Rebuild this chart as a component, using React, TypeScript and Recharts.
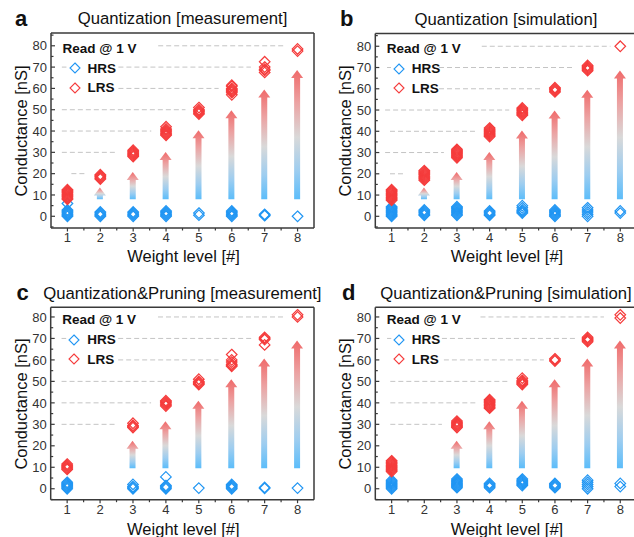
import React from "react";
import { Bar, ComposedChart, ReferenceLine, Scatter, XAxis, YAxis } from "recharts";

const FONT = '"Liberation Sans", Arial, Helvetica, sans-serif';
const HRS_COLOR = "#2196f3";
const LRS_COLOR = "#f53c3c";
const AXIS_COLOR = "#3a3a3a";

const levels = [1, 2, 3, 4, 5, 6, 7, 8];
const xTicks = [1, 1.5, 2, 2.5, 3, 3.5, 4, 4.5, 5, 5.5, 6, 6.5, 7, 7.5, 8];
const yTicks = [-5, 0, 5, 10, 15, 20, 25, 30, 35, 40, 45, 50, 55, 60, 65, 70, 75, 80, 85];

// conductance readings [nS], one list per weight level 1..8
const hrsA = [
  [0, 0.5, 1, 1.5, 2, 2.5, 3, 6],
  [0, 0.5, 1, 1.5, 2],
  [0, 0.5, 1, 1.5, 2],
  [0, 0.5, 1, 1.5, 2, 2.5],
  [0.5, 1.5],
  [0, 0.5, 1, 1.5, 2, 2.5],
  [0.3, 0.6, 0.9],
  [0],
];
const lrsA = [
  [8, 8.5, 9, 9.5, 10, 10.5, 11, 11.5, 12, 12.5],
  [17.5, 18, 18.5, 19, 19.5],
  [28, 28.5, 29, 29.5, 30, 30.5, 31],
  [38, 38.5, 39, 39.5, 40, 40.5, 41, 42],
  [48, 48.5, 49, 49.5, 50, 51],
  [57, 58, 58.5, 59, 59.5, 60, 61, 61.5],
  [67.5, 68.5, 69, 70, 72.5],
  [77.5, 78.5],
];
const hrsB = [
  [0, 0.5, 1, 1.5, 2, 2.5, 3, 3.5, 4, 4.5],
  [0.5, 1, 1.5, 2, 2.5, 3],
  [0.5, 1, 1.5, 2, 2.5, 3, 3.5, 4, 4.5],
  [0.5, 1, 1.5, 2, 2.5],
  [1.5, 2, 2.5, 3, 4, 5],
  [0, 0.5, 1, 1.5, 2, 2.5, 3],
  [0, 1, 2, 3, 4],
  [1.5, 2.5],
];
const lrsB = [
  [7.5, 8, 8.5, 9, 9.5, 10, 10.5, 11, 11.5, 12, 12.5],
  [17, 17.5, 18, 18.5, 19, 19.5, 20, 20.5, 21, 21.5],
  [27.5, 28, 28.5, 29, 29.5, 30, 30.5, 31, 31.5],
  [37.5, 38, 38.5, 39, 39.5, 40, 40.5, 41, 41.5],
  [47.5, 48, 48.5, 49, 49.5, 50, 50.5, 51],
  [58.5, 59, 59.5, 60, 60.5],
  [68.5, 69, 69.5, 70, 70.5, 71],
  [80],
];
const hrsC = [
  [0, 0.5, 1, 1.5, 2, 2.5, 3],
  [],
  [0, 0.5, 1, 2],
  [0, 0.5, 1, 1.5, 5.5],
  [0.3],
  [0, 0.5, 1, 1.5, 2],
  [0.2, 0.6],
  [0.3],
];
const lrsC = [
  [9, 9.5, 10, 10.5, 11, 11.5],
  [],
  [28.5, 29, 29.5, 30.5],
  [38.5, 39, 39.5, 40, 40.5, 41],
  [48.5, 49, 49.5, 50, 51],
  [57, 57.5, 58, 59, 60, 62.5],
  [67, 69.5, 70, 70.5],
  [80, 81],
];
const hrsD = [
  [0, 0.5, 1, 1.5, 2, 2.5, 3, 3.5, 4],
  [],
  [0.5, 1, 1.5, 2, 2.5, 3, 3.5, 4, 4.5],
  [0.5, 1, 1.5, 2, 2.5],
  [1.5, 2, 2.5, 3, 3.5, 4, 4.5],
  [0.5, 1, 1.5, 2, 2.5],
  [0, 1, 2, 3, 4],
  [1, 2.5],
];
const lrsD = [
  [8, 8.5, 9, 9.5, 10, 10.5, 11, 11.5, 12, 12.5, 13],
  [],
  [28.5, 29, 29.5, 30, 30.5, 31, 31.5],
  [37.5, 38, 38.5, 39, 39.5, 40, 40.5, 41, 41.5],
  [48.5, 49, 49.5, 50, 50.5, 51.5],
  [59.5, 60, 60.5],
  [68.5, 69, 69.5, 70, 70.5],
  [79.5, 81],
];

// arrow tips per level (null = no arrow), arrows start at the base value
const arrowTopsQ = [null, 13.5, 20.8, 30.2, 40.4, 49.8, 59.5, 68.6];
const arrowBaseQ = 8;
const arrowTopsP = [null, null, 22.4, 31.4, 41, 51, 60.6, 69];
const arrowBaseP = 9.6;

type Guide = { y: number; from: number; to: number };
const guidesA: Guide[] = [
  { y: 20, from: 1.12, to: 1.58 },
  { y: 30, from: 0.83, to: 2.52 },
  { y: 40, from: 0.83, to: 3.55 },
  { y: 50, from: 0.83, to: 4.59 },
  { y: 60, from: 2.55, to: 5.6 },
  { y: 70, from: 0.83, to: 0.97 },
  { y: 70, from: 2.55, to: 6.58 },
  { y: 80, from: 3.76, to: 7.65 },
];
const guidesB: Guide[] = [
  { y: 20, from: 0.95, to: 1.38 },
  { y: 30, from: 0.8, to: 2.6 },
  { y: 40, from: 0.95, to: 3.56 },
  { y: 50, from: 0.8, to: 4.6 },
  { y: 60, from: 2.45, to: 5.6 },
  { y: 70, from: 0.86, to: 0.98 },
  { y: 70, from: 2.45, to: 6.6 },
  { y: 80, from: 3.76, to: 7.7 },
];
const guidesC: Guide[] = [
  { y: 30, from: 0.83, to: 2.5 },
  { y: 40, from: 0.83, to: 3.55 },
  { y: 50, from: 0.83, to: 4.6 },
  { y: 60, from: 2.55, to: 5.6 },
  { y: 70, from: 0.83, to: 0.97 },
  { y: 70, from: 2.55, to: 6.6 },
  { y: 80, from: 3.76, to: 7.65 },
];
const guidesD: Guide[] = [
  { y: 30, from: 0.96, to: 2.54 },
  { y: 40, from: 0.96, to: 3.57 },
  { y: 50, from: 0.96, to: 4.6 },
  { y: 60, from: 2.6, to: 5.66 },
  { y: 70, from: 0.86, to: 0.99 },
  { y: 70, from: 2.54, to: 6.67 },
  { y: 80, from: 3.72, to: 7.5 },
];

const toPoints = (sets: number[][]) =>
  sets.flatMap((vals, i) => vals.map((y) => ({ x: levels[i], y })));

const diamond = (color: string) => (p: any) => {
  const { cx, cy } = p;
  if (cx == null || cy == null) return null;
  const r = 5.3;
  return (
    <path
      d={`M${cx},${cy - r}L${cx + r},${cy}L${cx},${cy + r}L${cx - r},${cy}Z`}
      fill="none"
      stroke={color}
      strokeWidth={1.2}
    />
  );
};

const arrowShape = (gradId: string) => (p: any) => {
  const { x, y, width, height } = p;
  if (!height || height <= 0) return null;
  const cx = x + width / 2;
  const headH = 8;
  const half = 3;
  const d = `M${cx},${y}L${x + width},${y + headH}L${cx + half},${y + headH}L${cx + half},${y + height}L${cx - half},${y + height}L${cx - half},${y + headH}L${x},${y + headH}Z`;
  return (
    <g>
      <defs>
        <linearGradient id={gradId} x1="0" y1="0" x2="0" y2="1">
          <stop offset="0%" stopColor="#f06a6a" />
          <stop offset="25%" stopColor="#eca2a2" />
          <stop offset="52%" stopColor="#d9d9d9" />
          <stop offset="78%" stopColor="#9dcdf0" />
          <stop offset="100%" stopColor="#5cbdfa" />
        </linearGradient>
      </defs>
      <path d={d} fill={`url(#${gradId})`} />
    </g>
  );
};

const tickFont = { fontSize: 13, fill: "#333", fontFamily: FONT };

// bottom axis: outward tick, label only on whole levels
const XTick = (p: any) => {
  const { x, y, payload } = p;
  const v = payload.value;
  const major = Number.isInteger(v);
  return (
    <g>
      <line x1={x} y1={y} x2={x} y2={y + (major ? 3.5 : 2.5)} stroke={AXIS_COLOR} strokeWidth={1.2} />
      {major && (
        <text x={x} y={y + 5} dy="0.72em" textAnchor="middle" {...tickFont}>
          {v}
        </text>
      )}
    </g>
  );
};

// left axis: inward tick, label every 10
const YTick = (p: any) => {
  const { x, y, payload } = p;
  const v = payload.value;
  const major = v % 10 === 0;
  return (
    <g>
      <line x1={x} y1={y} x2={x + (major ? 4 : 2.5)} y2={y} stroke={AXIS_COLOR} strokeWidth={1.2} />
      {major && (
        <text x={x - 4} y={y} dy="0.36em" textAnchor="end" {...tickFont}>
          {v}
        </text>
      )}
    </g>
  );
};

type Box = { left: number; top: number; right: number; bottom: number };
type Frame = { left: number; top: number; width: number; height: number };

function Txt({
  x,
  base,
  size,
  bold,
  center,
  children,
}: {
  x: number;
  base: number;
  size: number;
  bold?: boolean;
  center?: boolean;
  children: React.ReactNode;
}) {
  return (
    <div
      style={{
        position: "absolute",
        left: x,
        top: base - 0.8465 * size,
        fontSize: size,
        lineHeight: 1,
        fontWeight: bold ? "bold" : "normal",
        fontFamily: FONT,
        whiteSpace: "nowrap",
        color: "#111",
        transform: center ? "translateX(-50%)" : undefined,
      }}
    >
      {children}
    </div>
  );
}

function Panel({
  id,
  letter,
  title,
  hrs,
  lrs,
  arrowTops,
  arrowBase,
  guides,
  yDomain,
  box,
  frame,
  letterX,
  yLabelX,
  xLabelGap,
}: {
  id: string;
  letter: string;
  title: string;
  hrs: number[][];
  lrs: number[][];
  arrowTops: (number | null)[];
  arrowBase: number;
  guides: Guide[];
  yDomain: [number, number];
  box: Box;
  frame: Frame;
  letterX: number;
  yLabelX: number;
  xLabelGap: number;
}) {
  // axes take 1px each (a 0px axis is not drawn)
  const margin = {
    top: box.top - frame.top - 1,
    left: box.left - frame.left - 1,
    right: frame.left + frame.width - box.right - 1,
    bottom: frame.top + frame.height - box.bottom - 1,
  };
  const arrowRows = levels
    .map((x, i) => ({ x, range: arrowTops[i] == null ? null : [arrowBase, arrowTops[i]] }))
    .filter((r) => r.range != null);
  const yTicksIn = yTicks.filter((v) => v > yDomain[0] && v < yDomain[1]);
  const plotH = box.bottom - box.top;
  const plotCx = (box.left + box.right) / 2;
  const yPx = (v: number) => box.top + ((yDomain[1] - v) / (yDomain[1] - yDomain[0])) * plotH;
  const legendMarker = (color: string, v: number) => {
    const cy = yPx(v);
    const cx = box.left + 23.5;
    return (
      <svg style={{ position: "absolute", left: cx - 6, top: cy - 6 }} width={12} height={12}>
        <path d="M6,1L11,6L6,11L1,6Z" fill="none" stroke={color} strokeWidth={1.1} />
      </svg>
    );
  };

  return (
    <>
      <div style={{ position: "absolute", left: frame.left, top: frame.top }}>
        <ComposedChart width={frame.width} height={frame.height} margin={margin} data={arrowRows}>
          <XAxis
            xAxisId="x"
            dataKey="x"
            type="number"
            domain={[0.5, 8.5]}
            allowDataOverflow
            ticks={xTicks}
            interval={0}
            height={1}
            tickSize={0}
            tickMargin={0}
            tick={<XTick />}
            tickLine={false}
            axisLine={{ stroke: AXIS_COLOR, strokeWidth: 1.5 }}
          />
          <XAxis
            xAxisId="top"
            orientation="top"
            type="number"
            domain={[0.5, 8.5]}
            height={1}
            tick={false}
            tickLine={false}
            axisLine={{ stroke: AXIS_COLOR, strokeWidth: 1.5 }}
          />
          <YAxis
            yAxisId="y"
            type="number"
            domain={yDomain}
            allowDataOverflow
            ticks={yTicksIn}
            interval={0}
            width={1}
            tickSize={0}
            tickMargin={0}
            tick={<YTick />}
            tickLine={false}
            axisLine={{ stroke: AXIS_COLOR, strokeWidth: 1.5 }}
          />
          <YAxis
            yAxisId="right"
            orientation="right"
            type="number"
            domain={yDomain}
            width={1}
            tick={false}
            tickLine={false}
            axisLine={{ stroke: AXIS_COLOR, strokeWidth: 1.5 }}
          />
          {guides.map((g, i) => (
            <ReferenceLine
              key={i}
              xAxisId="x"
              yAxisId="y"
              segment={[
                { x: g.from, y: g.y },
                { x: g.to, y: g.y },
              ]}
              stroke="#c4c4c4"
              strokeWidth={1}
              strokeDasharray="5 3"
            />
          ))}
          <Bar
            xAxisId="x"
            yAxisId="y"
            dataKey="range"
            barSize={12}
            shape={arrowShape(`grad-${id}`)}
            isAnimationActive={false}
          />
          <Scatter
            xAxisId="x"
            yAxisId="y"
            data={toPoints(hrs)}
            dataKey="y"
            shape={diamond(HRS_COLOR)}
            isAnimationActive={false}
          />
          <Scatter
            xAxisId="x"
            yAxisId="y"
            data={toPoints(lrs)}
            dataKey="y"
            shape={diamond(LRS_COLOR)}
            isAnimationActive={false}
          />
        </ComposedChart>
      </div>
      <Txt x={letterX} base={box.top - 6.5} size={22} bold>
        {letter}
      </Txt>
      <Txt x={plotCx} base={box.top - 7.5} size={16.7} center>
        {title}
      </Txt>
      <Txt x={plotCx + 1} base={box.bottom + xLabelGap} size={16.5} center>
        Weight level [#]
      </Txt>
      <div
        style={{
          position: "absolute",
          left: yLabelX,
          top: (box.top + box.bottom) / 2,
          transform: "translate(-50%, -50%) rotate(-90deg)",
          fontSize: 16.5,
          lineHeight: 1,
          fontFamily: FONT,
          whiteSpace: "nowrap",
          color: "#111",
        }}
      >
        Conductance [nS]
      </div>
      <Txt x={box.left + 11.5} base={yPx(76.6)} size={13.5} bold>
        Read @ 1 V
      </Txt>
      {legendMarker(HRS_COLOR, 69.4)}
      <Txt x={box.left + 36.5} base={yPx(69.4) + 4.8} size={13.5} bold>
        HRS
      </Txt>
      {legendMarker(LRS_COLOR, 60.2)}
      <Txt x={box.left + 36.5} base={yPx(60.2) + 4.8} size={13.5} bold>
        LRS
      </Txt>
    </>
  );
}

export default function App() {
  return (
    <div
      style={{
        position: "absolute",
        left: 0,
        top: 0,
        width: 634,
        height: 537,
        overflow: "hidden",
        background: "#fff",
      }}
    >
      <Panel
        id="a"
        letter="a"
        title="Quantization [measurement]"
        hrs={hrsA}
        lrs={lrsA}
        arrowTops={arrowTopsQ}
        arrowBase={arrowBaseQ}
        guides={guidesA}
        yDomain={[-5.5, 86]}
        box={{ left: 51, top: 33, right: 314, bottom: 228 }}
        frame={{ left: 0, top: 0, width: 317, height: 268 }}
        letterX={15}
        yLabelX={20.5}
        xLabelGap={33.5}
      />
      <Panel
        id="b"
        letter="b"
        title="Quantization [simulation]"
        hrs={hrsB}
        lrs={lrsB}
        arrowTops={arrowTopsQ}
        arrowBase={arrowBaseQ}
        guides={guidesB}
        yDomain={[-5.5, 86]}
        box={{ left: 375.3, top: 33.5, right: 636.6, bottom: 228 }}
        frame={{ left: 317, top: 0, width: 322, height: 268 }}
        letterX={340}
        yLabelX={344.5}
        xLabelGap={33.5}
      />
      <Panel
        id="c"
        letter="c"
        title="Quantization&Pruning [measurement]"
        hrs={hrsC}
        lrs={lrsC}
        arrowTops={arrowTopsP}
        arrowBase={arrowBaseP}
        guides={guidesC}
        yDomain={[-5.1, 84.5]}
        box={{ left: 50.7, top: 307.3, right: 314, bottom: 499.7 }}
        frame={{ left: 0, top: 268, width: 317, height: 269 }}
        letterX={16.5}
        yLabelX={20.5}
        xLabelGap={35.5}
      />
      <Panel
        id="d"
        letter="d"
        title="Quantization&Pruning [simulation]"
        hrs={hrsD}
        lrs={lrsD}
        arrowTops={arrowTopsP}
        arrowBase={arrowBaseP}
        guides={guidesD}
        yDomain={[-5.1, 84.5]}
        box={{ left: 375.3, top: 307.3, right: 636.6, bottom: 499.7 }}
        frame={{ left: 317, top: 268, width: 322, height: 269 }}
        letterX={342}
        yLabelX={344.5}
        xLabelGap={35.5}
      />
    </div>
  );
}
